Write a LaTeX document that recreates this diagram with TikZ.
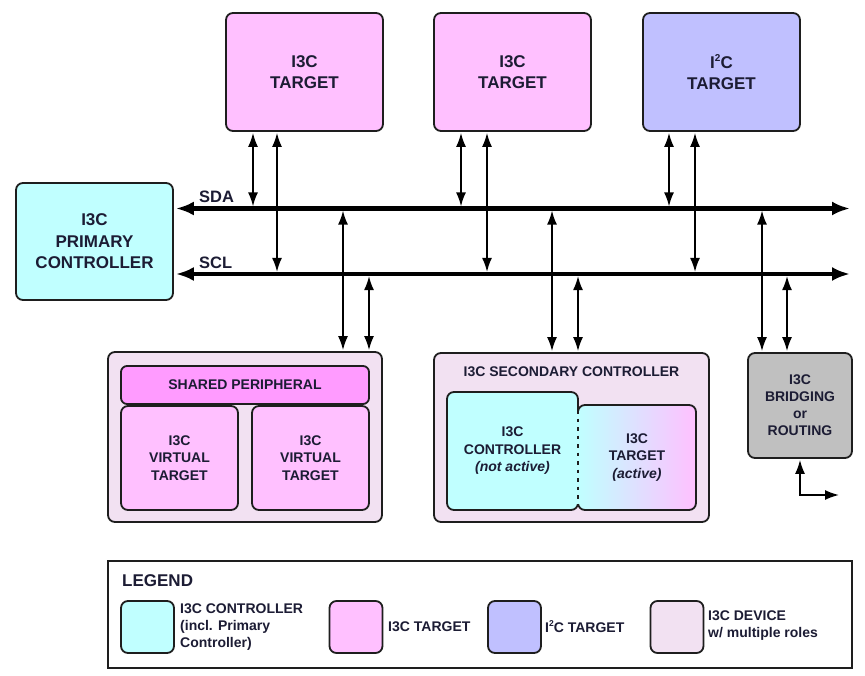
\documentclass[tikz,border=0pt]{standalone}
\usepackage{fontspec}
\setmainfont{Liberation Sans}
\usetikzlibrary{arrows.meta}
\definecolor{cyanc}{RGB}{192,255,255}
\definecolor{pinkc}{RGB}{255,192,255}
\definecolor{lavc}{RGB}{192,192,255}
\definecolor{devc}{RGB}{242,225,242}
\definecolor{grayc}{RGB}{192,192,192}
\definecolor{shpc}{RGB}{255,155,255}
\definecolor{txt}{RGB}{28,28,52}
\definecolor{edgec}{RGB}{30,30,30}
\newcommand{\suptwo}[1]{\raisebox{0.42em}{\fontsize{#1}{#1}\selectfont 2}}
\begin{document}
\begin{tikzpicture}[x=1pt,y=-1pt,
  blk/.style={draw=edgec, line width=1.8, rounded corners=7, inner sep=0, align=center, text=txt,
              font=\bfseries\fontsize{14}{17.5}\selectfont},
  big/.style={blk, font=\bfseries\fontsize{17}{21.5}\selectfont},
  swatch/.style={draw=edgec, line width=1.8, rounded corners=7, inner sep=0, minimum width=53, minimum height=52},
  conn/.style={line width=1.6, draw=black, {Latex[length=14,width=10]}-{Latex[length=14,width=10]}},
  bus/.style={line width=4.2, draw=black, {Latex[length=18,width=14]}-{Latex[length=18,width=14]}},
  lbl/.style={text=txt, font=\bfseries\fontsize{14}{17}\selectfont, inner sep=0, align=left, anchor=west},
  buslbl/.style={text=txt, font=\bfseries\fontsize{16.5}{17}\selectfont, inner sep=0, anchor=west}]

\useasboundingbox (0,0) rectangle (865,676);
\fill[white] (0,0) rectangle (865,676);

% top targets
\node[big, fill=pinkc, minimum width=157, minimum height=118] (t1) at (304.5,72) {I3C\\TARGET};
\node[big, fill=pinkc, minimum width=157, minimum height=118] (t2) at (512.5,72) {I3C\\TARGET};
\node[big, fill=lavc, minimum width=157, minimum height=118] (t3) at (721.5,72) {I\suptwo{10}C\\TARGET};

% primary controller
\node[big, fill=cyanc, minimum width=157, minimum height=117, text depth=0] (pc) at (94.5,241.5) {I3C\\PRIMARY\\CONTROLLER};

% shared peripheral
\node[blk, fill=devc, minimum width=274, minimum height=170] (sp) at (245,437) {};
\node[blk, fill=shpc, rounded corners=6, minimum width=248, minimum height=38] (shp) at (245,385) {SHARED PERIPHERAL};
\node[blk, fill=pinkc, minimum width=117, minimum height=104] (vt1) at (179.5,458) {I3C\\VIRTUAL\\TARGET};
\node[blk, fill=pinkc, minimum width=117, minimum height=104] (vt2) at (310.5,458) {I3C\\VIRTUAL\\TARGET};

% secondary controller
\node[blk, fill=devc, minimum width=275, minimum height=169] (sc) at (571.5,437.5) {};
\node[lbl, anchor=center] (sctitle) at (571.5,372) {I3C SECONDARY CONTROLLER};
\node[blk, left color=cyanc, right color=pinkc, minimum width=118, minimum height=105] (sct) at (637,457.5) {I3C\\TARGET\\\textit{(active)}};
\node[blk, fill=cyanc, minimum width=131, minimum height=118] (scc) at (512.5,451) {I3C\\CONTROLLER\\\textit{(not active)}};
\fill[cyanc] (575.6,411) rectangle (580.4,504);
\draw[edgec, line width=2.4, dash pattern=on 3.5 off 5] (578,410) -- (578,505);

% bridging
\node[blk, fill=grayc, minimum width=104, minimum height=105, font=\bfseries\fontsize{14}{17}\selectfont] (br) at (800,405.5) {I3C\\BRIDGING\\or\\ROUTING};

% buses
\coordinate (sdaR) at (850,208.5);
\coordinate (sclR) at (850,274);
\draw[bus, shorten <=2] (pc.east |- sdaR) -- (sdaR);
\draw[bus, shorten <=2] (pc.east |- sclR) -- (sclR);
\node[buslbl] (sda) at (199,197) {SDA};
\node[buslbl] (scl) at (199,263) {SCL};

% taps to upper devices
\coordinate (a1) at (253,208.5); \coordinate (b1) at (277,274);
\coordinate (a2) at (461,208.5); \coordinate (b2) at (487,274);
\coordinate (a3) at (669,208.5); \coordinate (b3) at (695,274);
\draw[conn, shorten <=1, shorten >=2.1] (t1.south -| a1) -- (a1);
\draw[conn, shorten <=1, shorten >=2.1] (t1.south -| b1) -- (b1);
\draw[conn, shorten <=1, shorten >=2.1] (t2.south -| a2) -- (a2);
\draw[conn, shorten <=1, shorten >=2.1] (t2.south -| b2) -- (b2);
\draw[conn, shorten <=1, shorten >=2.1] (t3.south -| a3) -- (a3);
\draw[conn, shorten <=1, shorten >=2.1] (t3.south -| b3) -- (b3);

% taps to lower devices
\coordinate (c1) at (343,208.5); \coordinate (d1) at (369,274);
\coordinate (c2) at (552,208.5); \coordinate (d2) at (578,274);
\coordinate (c3) at (762,208.5); \coordinate (d3) at (787,274);
\draw[conn, shorten <=2.1, shorten >=1] (c1) -- (c1 |- sp.north);
\draw[conn, shorten <=2.1, shorten >=1] (d1) -- (d1 |- sp.north);
\draw[conn, shorten <=2.1, shorten >=1] (c2) -- (c2 |- sc.north);
\draw[conn, shorten <=2.1, shorten >=1] (d2) -- (d2 |- sc.north);
\draw[conn, shorten <=2.1, shorten >=1] (c3) -- (c3 |- br.north);
\draw[conn, shorten <=2.1, shorten >=1] (d3) -- (d3 |- br.north);

% bridging output
\coordinate (bc) at (800,495);
\coordinate (be) at (839,495);
\draw[conn, shorten <=1] (br.south) -- (bc) -- (be);

% legend
\node[draw=edgec, line width=1.5, minimum width=744, minimum height=107, inner sep=0] (lg) at (480,614.5) {};
\node[lbl, font=\bfseries\fontsize{17}{17}\selectfont] (lgt) at (122,581) {LEGEND};
\node[swatch, fill=cyanc] (sw1) at (147.5,627) {};
\node[swatch, fill=pinkc] (sw2) at (356,627) {};
\node[swatch, fill=lavc] (sw3) at (514.5,627) {};
\node[swatch, fill=devc] (sw4) at (677,627) {};
\node[lbl] (l1) at (180,627) {I3C CONTROLLER\\(incl. Primary\\Controller)};
\node[lbl] (l2) at (388,627) {I3C TARGET};
\node[lbl] (l3) at (545,627) {I\suptwo{8.5}C TARGET};
\node[lbl] (l4) at (708,626) {I3C DEVICE\\w/ multiple roles};
\end{tikzpicture}
\end{document}
